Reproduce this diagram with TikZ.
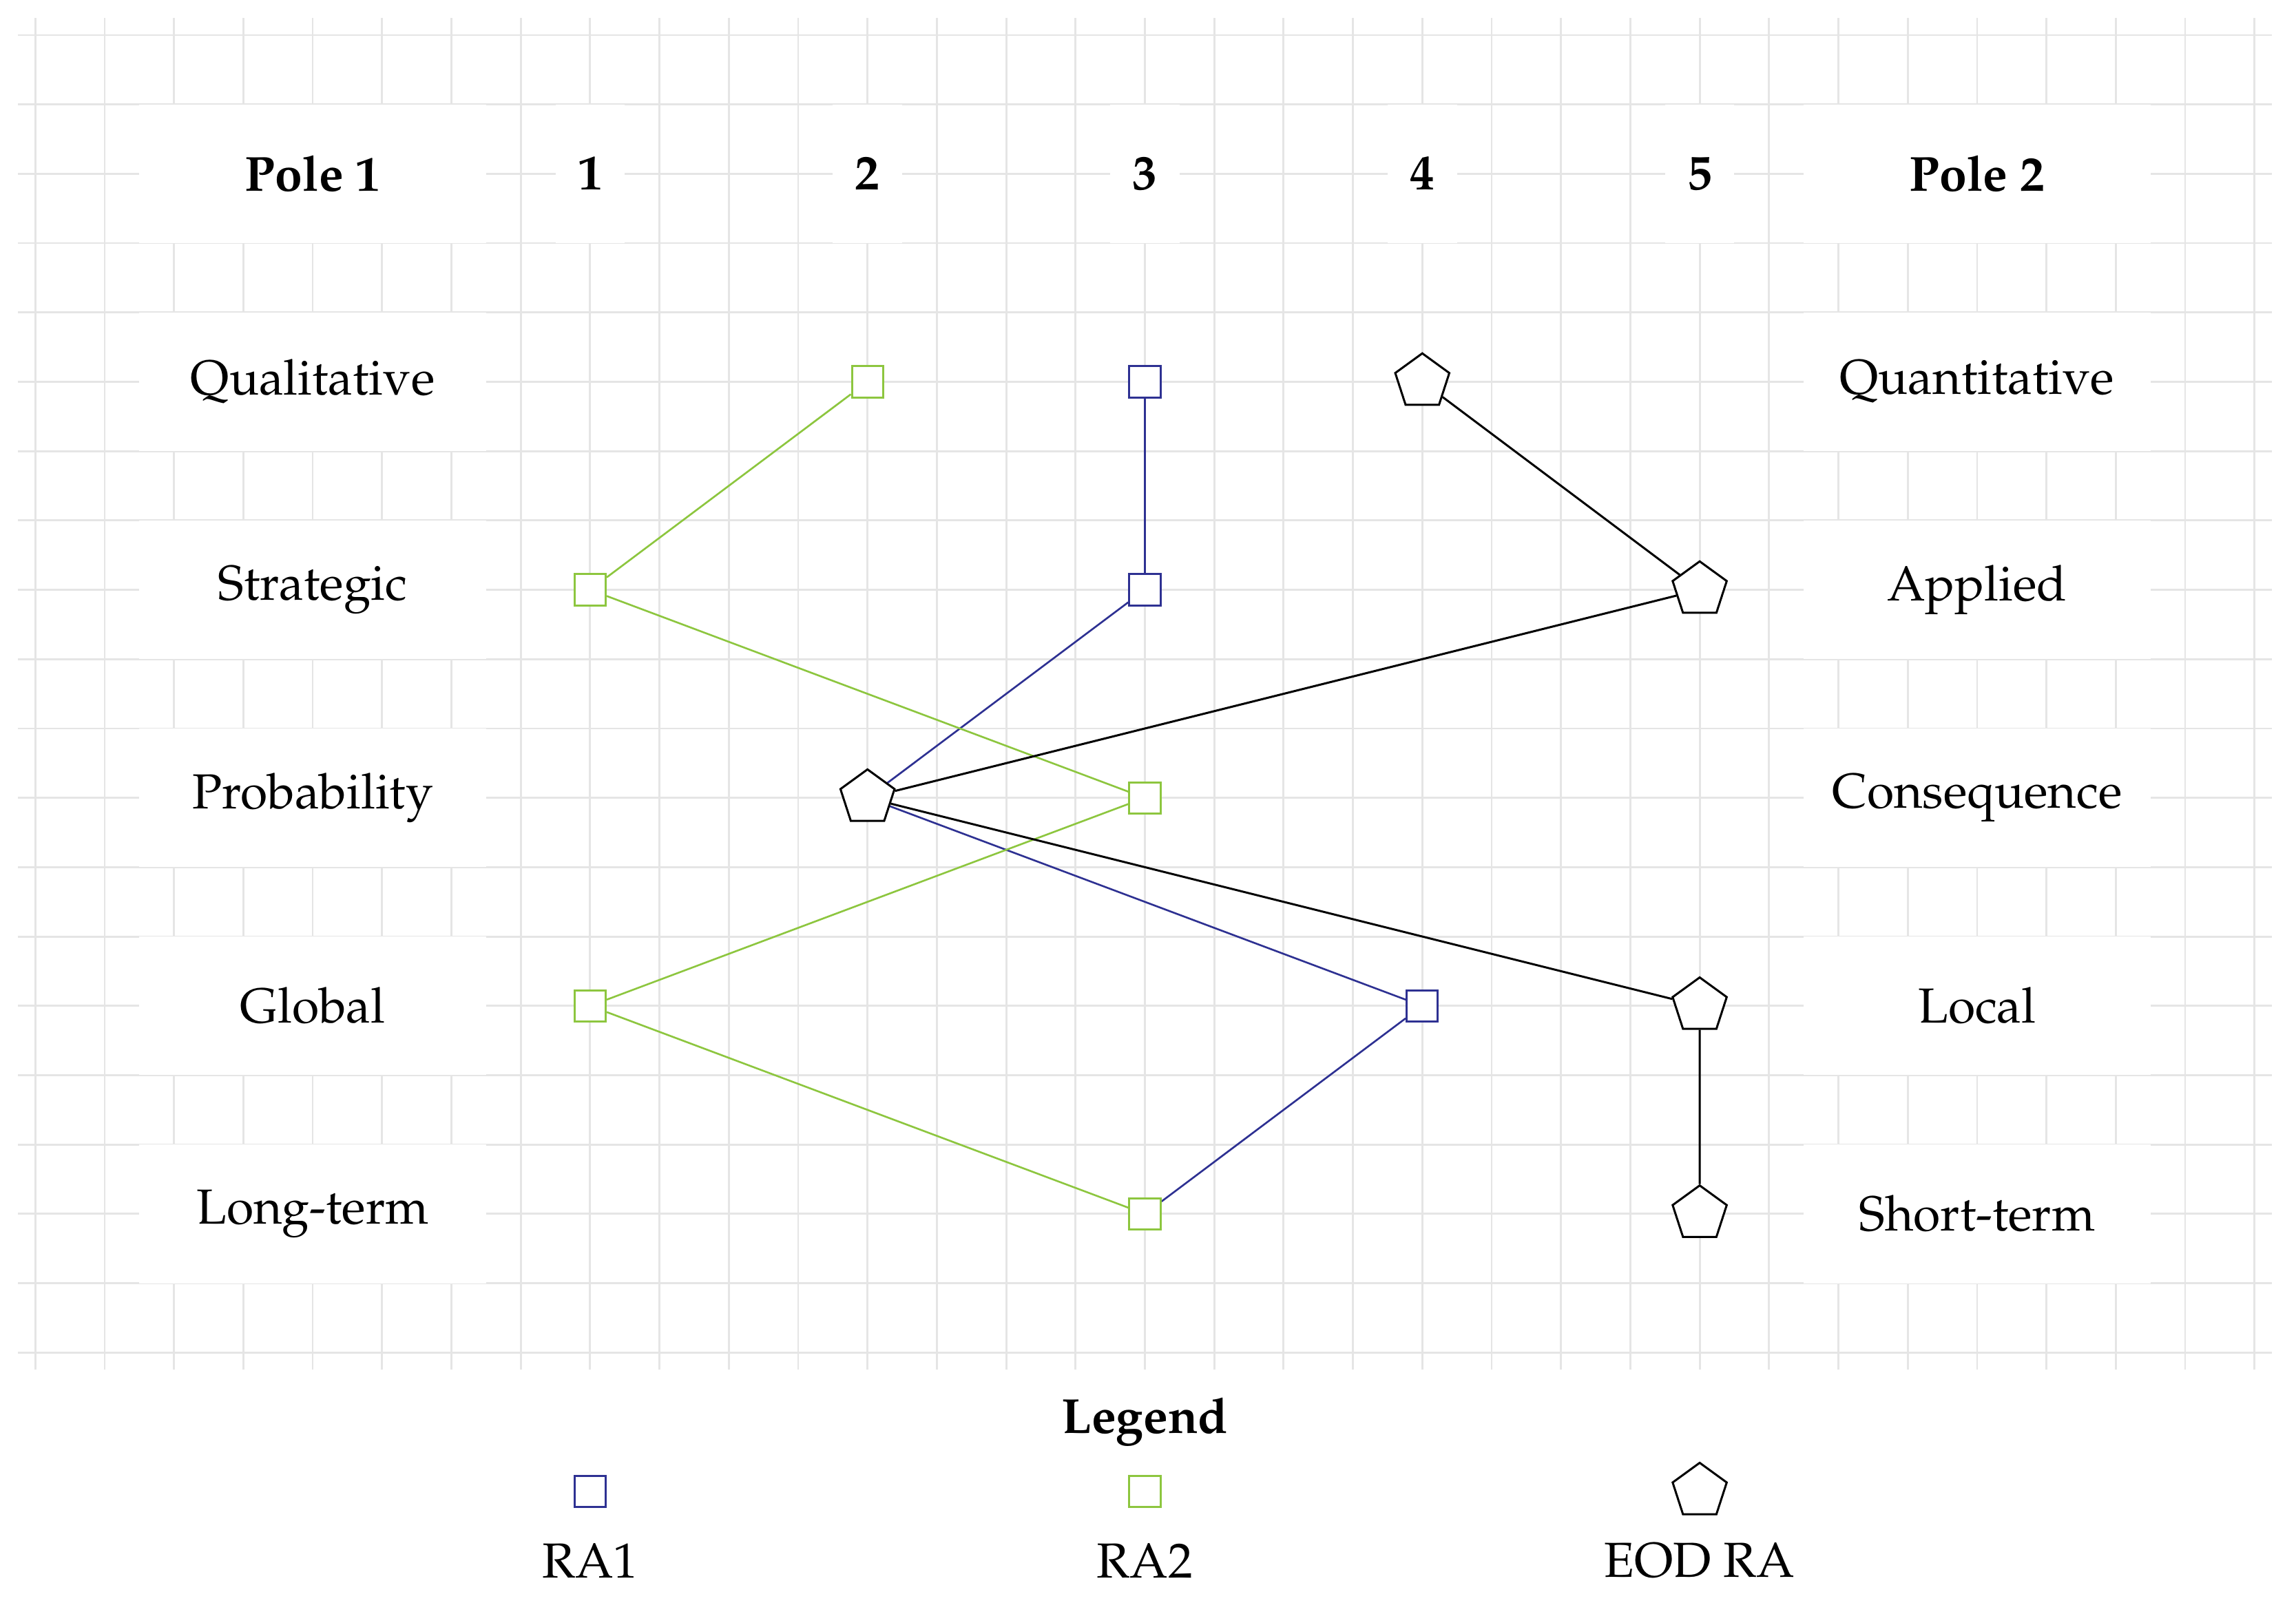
\documentclass[tikz,border=0pt]{standalone}
\usepackage[T1]{fontenc}
\usepackage{mathpazo}
\usetikzlibrary{shapes.geometric}
\definecolor{raone}{RGB}{46,49,146}
\definecolor{ratwo}{RGB}{141,198,63}
\definecolor{gridgray}{RGB}{229,229,229}
\newcommand{\labelsize}{\fontsize{20.2}{24}\selectfont}
\tikzset{
  gridline/.style={draw=gridgray, line width=0.8pt},
  polebox/.style={fill=white, minimum width=5cm, minimum height=2cm, inner sep=0pt, font=\labelsize},
  polehead/.style={polebox, font=\labelsize\bfseries},
  numbox/.style={fill=white, minimum width=1cm, minimum height=2cm, inner sep=0pt, font=\labelsize\bfseries},
  mark1/.style={rectangle, draw=raone, fill=white, minimum size=0.45cm, inner sep=0pt, line width=0.85pt},
  mark2/.style={rectangle, draw=ratwo, fill=white, minimum size=0.45cm, inner sep=0pt, line width=0.85pt},
  mark3/.style={regular polygon, regular polygon sides=5, draw=black, fill=white, minimum size=0.82cm, inner sep=0pt, line width=0.85pt},
  link1/.style={draw=raone, line width=0.75pt},
  link2/.style={draw=ratwo, line width=0.75pt},
  link3/.style={draw=black, line width=0.85pt},
  legtext/.style={font=\labelsize, inner sep=0pt},
}
\begin{document}
\begin{tikzpicture}[x=1cm, y=-1cm]
\useasboundingbox (-0.509,-0.506) rectangle (32.599,22.602);
% grid
\foreach \j in {0,...,19} \draw[gridline] (-0.25,\j) -- (32.25,\j);
\foreach \i in {0,...,32} \draw[gridline] (\i,-0.25) -- (\i,19.25);
% header
\node[polehead] (p1) at (4,2) {Pole 1};
\node[polehead] (p2) at (28,2) {Pole 2};
\node[numbox] (n1) at (8,2) {1};
\node[numbox] (n2) at (12,2) {2};
\node[numbox] (n3) at (16,2) {3};
\node[numbox] (n4) at (20,2) {4};
\node[numbox] (n5) at (24,2) {5};
% rows
\node[polebox] (l1) at (4,5) {Qualitative};
\node[polebox] (l2) at (4,8) {Strategic};
\node[polebox] (l3) at (4,11) {Probability};
\node[polebox] (l4) at (4,14) {Global};
\node[polebox] (l5) at (4,17) {Long-term};
\node[polebox] (r1) at (28,5) {Quantitative};
\node[polebox] (r2) at (28,8) {Applied};
\node[polebox] (r3) at (28,11) {Consequence};
\node[polebox] (r4) at (28,14) {Local};
\node[polebox] (r5) at (28,17) {Short-term};
% RA1
\node[mark1] (a1) at (16,5) {};
\node[mark1] (a2) at (16,8) {};
\node[mark1] (a3) at (12,11) {};
\node[mark1] (a4) at (20,14) {};
\node[mark1] (a5) at (16,17) {};
\draw[link1] (a1) -- (a2) -- (a3) -- (a4) -- (a5);
% RA2
\node[mark2] (b1) at (12,5) {};
\node[mark2] (b2) at (8,8) {};
\node[mark2] (b3) at (16,11) {};
\node[mark2] (b4) at (8,14) {};
\node[mark2] (b5) at (16,17) {};
\draw[link2] (b1) -- (b2) -- (b3) -- (b4) -- (b5);
% EOD RA
\node[mark3] (c1) at (20,5) {};
\node[mark3] (c2) at (24,8) {};
\node[mark3] (c3) at (12,11) {};
\node[mark3] (c4) at (24,14) {};
\node[mark3] (c5) at (24,17) {};
\draw[link3] (c1) -- (c2) -- (c3) -- (c4) -- (c5);
% legend
\node[legtext, font=\labelsize\bfseries] (leg) at (16,20) {Legend};
\node[mark1] (lg1) at (8,21) {};
\node[mark2] (lg2) at (16,21) {};
\node[mark3] (lg3) at (24,21) {};
\node[legtext] (lt1) at (8,22) {RA1};
\node[legtext] (lt2) at (16,22) {RA2};
\node[legtext] (lt3) at (24,22) {EOD RA};
\end{tikzpicture}
\end{document}
